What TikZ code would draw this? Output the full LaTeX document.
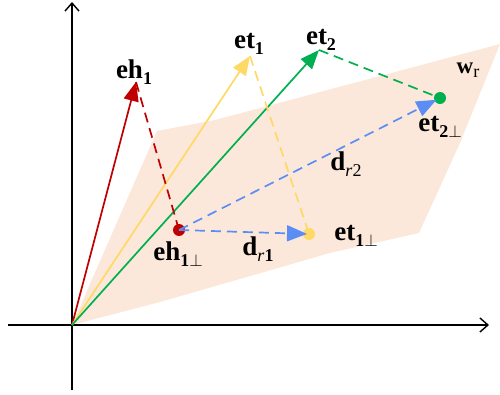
\documentclass[tikz,border=0pt]{standalone}
\usepackage{fontspec}
\setmainfont{Liberation Serif}
\usetikzlibrary{arrows.meta}
\definecolor{cred}{HTML}{C00000}
\definecolor{cyel}{HTML}{FFD966}
\definecolor{cgrn}{HTML}{00B050}
\definecolor{cblu}{HTML}{5B8EF5}
\definecolor{cplane}{HTML}{FCE8DA}
\newcommand{\mylbl}[2]{{\fontsize{27}{27}\selectfont\textbf{#1}}\raisebox{-6pt}{\fontsize{18}{18}\selectfont #2}}
\begin{document}
\begin{tikzpicture}[x=1pt,y=-1pt,
  vec/.style={line width=1.7pt,-{Triangle[length=19pt,width=15pt]}},
  proj/.style={line width=1.7pt,dash pattern=on 10pt off 6pt},
  dvec/.style={line width=1.7pt,dash pattern=on 10pt off 6pt,-{Triangle[length=20pt,width=16pt]}},
  axis/.style={line width=1.4pt,-{Straight Barb[length=8pt,width=14pt,line width=1.4pt]}},
  dot/.style={circle,inner sep=0pt,minimum size=12pt},
  lbl/.style={inner sep=0pt}]
\useasboundingbox (0,0) rectangle (500,395);
% plane
\fill[cplane] (72,325) -- (157,131) -- (215,120) -- (500,44) -- (460,143) -- (419,233) -- (330,253) -- (160,302) -- cycle;
% axes
\coordinate (xs) at (8,325);
\coordinate (xe) at (489,325);
\coordinate (ys) at (72,390);
\coordinate (ye) at (72,2);
\coordinate (o) at (72,325);
\draw[axis] (xs) -- (xe);
\draw[axis] (ys) -- (ye);
% vector tips
\coordinate (eh) at (136,82);
\coordinate (et1) at (250,56);
\coordinate (et2) at (319,50);
% projected points
\node[dot,fill=cred] (ehp) at (179,230) {};
\node[dot,fill=cyel] (et1p) at (309,234) {};
\node[dot,fill=cgrn] (et2p) at (440,98) {};
% vectors
\draw[vec,cred] (o) -- (eh);
\draw[vec,cyel] (o) -- (et1);
\draw[vec,cgrn] (o) -- (et2);
% projection lines
\draw[proj,cred] (eh) -- (ehp.center);
\draw[proj,cyel] (et1) -- (et1p.center);
\draw[proj,cgrn] (et2) -- (et2p.center);
% difference vectors
\draw[dvec,cblu,shorten >=2pt] (ehp.center) -- (et1p.center);
\draw[dvec,cblu,shorten >=4pt] (ehp.center) -- (et2p.center);
% labels
\node[lbl] (leh) at (134,72) {\mylbl{eh}{\textbf{1}}};
\node[lbl] (let1) at (249,44) {\mylbl{et}{\textbf{1}}};
\node[lbl] (let2) at (321,40) {\mylbl{et}{\textbf{2}}};
\node[lbl] (lehp) at (178,254) {\mylbl{eh}{\textbf{1}$\perp$}};
\node[lbl] (let1p) at (356,236) {\mylbl{et}{\textbf{1}$\perp$}};
\node[lbl] (let2p) at (440,127) {\mylbl{et}{\textbf{2}$\perp$}};
\node[lbl] (ld1) at (258,249) {\mylbl{d}{\textit{r}\textbf{1}}};
\node[lbl] (ld2) at (346,164) {\mylbl{d}{\textit{r}2}};
\node[lbl] (lw) at (468,70) {{\fontsize{23}{23}\selectfont\textbf{w}}\raisebox{-4pt}{\fontsize{18}{18}\selectfont r}};
\end{tikzpicture}
\end{document}
